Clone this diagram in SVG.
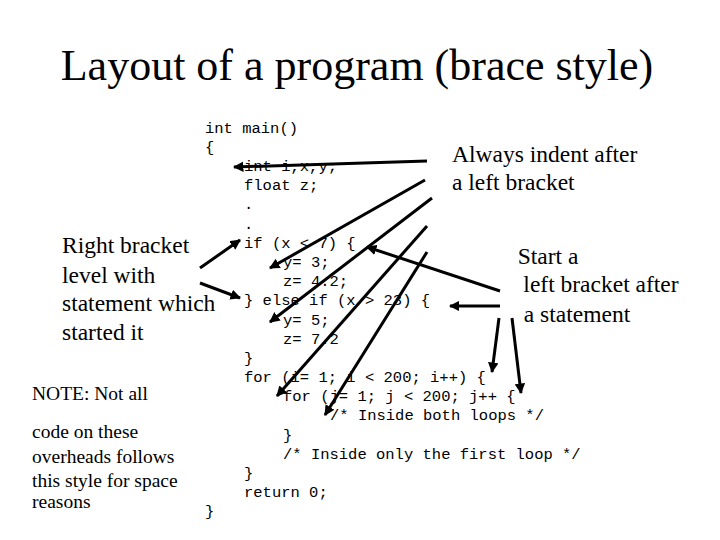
<svg xmlns="http://www.w3.org/2000/svg" width="720" height="540" viewBox="0 0 720 540">
<style>
.c{font-family:"Liberation Mono",monospace;font-size:15.5px;fill:#000;white-space:pre}
.t{font-family:"Liberation Serif",serif;fill:#000}
.m{font-size:23.5px}
.a{stroke:#000;stroke-width:3;fill:none;marker-end:url(#ah)}
</style>
<defs><marker id="ah" viewBox="0 0 10 10" refX="9" refY="5" markerWidth="3.5" markerHeight="3.5" orient="auto"><path d="M0,0L10,5L0,10z" fill="#000"/></marker></defs>
<rect width="720" height="540" fill="#fff"/>
<text class="t" x="357" y="80" font-size="44" text-anchor="middle">Layout of a program (brace style)</text>
<g id="code">
<text class="c" x="205" y="133">int main()</text>
<text class="c" x="205" y="152">{</text>
<text class="c" x="244" y="171">int i,x,y;</text>
<text class="c" x="244" y="190">float z;</text>
<text class="c" x="244" y="209">.</text>
<text class="c" x="244" y="229">.</text>
<text class="c" x="244" y="248">if (x &lt; 7) {</text>
<text class="c" x="283" y="267">y= 3;</text>
<text class="c" x="283" y="286">z= 4.2;</text>
<text class="c" x="244" y="305">} else if (x &gt; 23) {</text>
<text class="c" x="283" y="325">y= 5;</text>
<text class="c" x="283" y="344">z= 7.2</text>
<text class="c" x="244" y="363">}</text>
<text class="c" x="244" y="382">for (i= 1; i &lt; 200; i++) {</text>
<text class="c" x="283" y="401">for (j= 1; j &lt; 200; j++ {</text>
<text class="c" x="330" y="420">/* Inside both loops */</text>
<text class="c" x="283" y="440">}</text>
<text class="c" x="283" y="459">/* Inside only the first loop */</text>
<text class="c" x="244" y="478">}</text>
<text class="c" x="244" y="497">return 0;</text>
<text class="c" x="205" y="516">}</text>
</g>
<g id="indent-note"><text class="t m" x="452" y="162">Always indent after</text><text class="t m" x="452" y="190">a left bracket</text></g>
<g id="start-note" text-anchor="middle"><text class="t m" x="548" y="264">Start a</text><text class="t m" x="601" y="292">left bracket after</text><text class="t m" x="577" y="322">a statement</text></g>
<g id="right-note"><text class="t m" x="62" y="253">Right bracket</text><text class="t m" x="62" y="283">level with</text><text class="t m" x="62" y="311">statement which</text><text class="t m" x="62" y="340">started it</text></g>
<g id="note"><text class="t" font-size="19.5" x="32" y="400">NOTE: Not all</text>
<text class="t" font-size="19.5" x="32" y="438">code on these</text><text class="t" font-size="19.5" x="32" y="463">overheads follows</text><text class="t" font-size="19.5" x="32" y="487">this style for space</text><text class="t" font-size="19.5" x="32" y="508">reasons</text></g>
<g id="connectors">
<path class="a" d="M427,161L234,167"/>
<path class="a" d="M425,180L270,268"/>
<path class="a" d="M432,198L270,322"/>
<path class="a" d="M427,226L277,396"/>
<path class="a" d="M427,252L325,415"/>
<path class="a" d="M500,291L367,247"/>
<path class="a" d="M500,306L450,306"/>
<path class="a" d="M499,318L492,372"/>
<path class="a" d="M512,318L521,393"/>
<path class="a" d="M200,268L240,240"/>
<path class="a" d="M200,283L240,298"/>
</g>
</svg>
